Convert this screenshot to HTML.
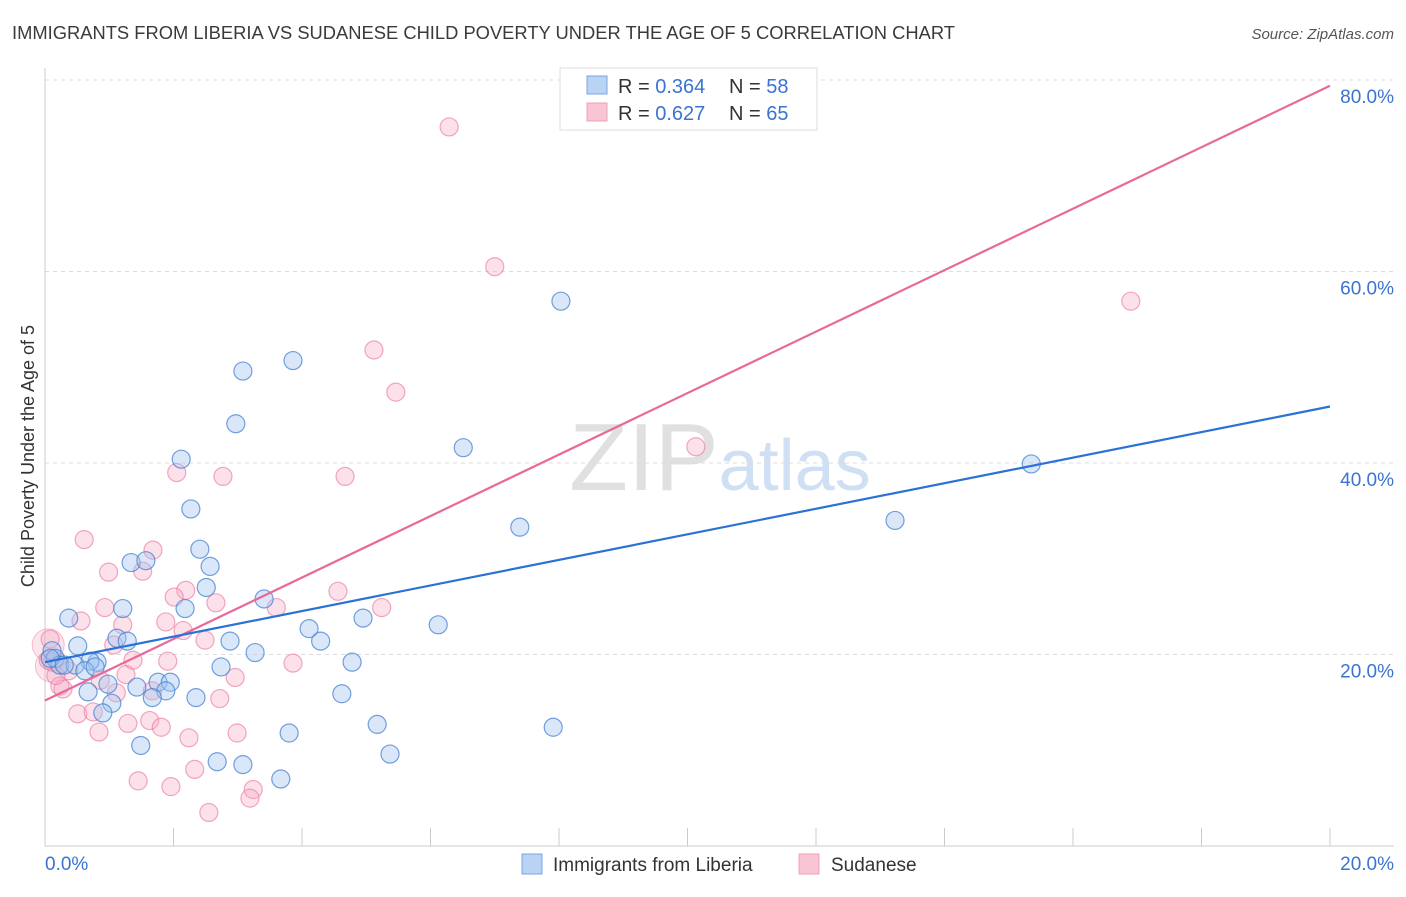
<!DOCTYPE html>
<html><head><meta charset="utf-8"><style>
body{margin:0;background:#fff;font-family:"Liberation Sans",sans-serif}
svg text{font-family:"Liberation Sans",sans-serif}
</style></head><body>
<svg id="chart" width="1406" height="892" xmlns="http://www.w3.org/2000/svg">
<text x="12" y="39" font-size="18" fill="#3a3a3a" textLength="943" lengthAdjust="spacingAndGlyphs">IMMIGRANTS FROM LIBERIA VS SUDANESE CHILD POVERTY UNDER THE AGE OF 5 CORRELATION CHART</text>
<text x="1394" y="39" font-size="15" fill="#555" font-style="italic" text-anchor="end">Source: ZipAtlas.com</text>
<text x="34" y="456" font-size="18" fill="#333" text-anchor="middle" transform="rotate(-90 34 456)">Child Poverty Under the Age of 5</text>
<text x="720" y="490" font-size="96" fill="#ddd" text-anchor="middle" font-family="Liberation Serif"><tspan fill="#e0e0e0">ZIP</tspan><tspan fill="#cfe0f5" font-family="Liberation Sans" font-size="72">atlas</tspan></text>
<g id="grid"></g><g id="axes"></g><g id="pts"></g><g id="lines"></g>
<g>
<rect x="560" y="68" width="257" height="62" fill="#fff" stroke="#ddd"/>
<rect x="587" y="76" width="20" height="18" fill="#b9d3f5" stroke="#7aa5e0"/>
<rect x="587" y="103" width="20" height="18" fill="#f9c5d5" stroke="#f0a0b8"/>
<text x="618" y="93" font-size="20" fill="#333">R = <tspan fill="#3a74d0">0.364</tspan></text>
<text x="729" y="93" font-size="20" fill="#333">N = <tspan fill="#3a74d0">58</tspan></text>
<text x="618" y="120" font-size="20" fill="#333">R = <tspan fill="#3a74d0">0.627</tspan></text>
<text x="729" y="120" font-size="20" fill="#333">N = <tspan fill="#3a74d0">65</tspan></text>
</g>
<g>
<rect x="522" y="854" width="20" height="20" fill="#b9d3f5" stroke="#7aa5e0"/>
<text x="553" y="871" font-size="19" fill="#333">Immigrants from Liberia</text>
<rect x="799" y="854" width="20" height="20" fill="#f9c5d5" stroke="#f0a0b8"/>
<text x="831" y="871" font-size="19" fill="#333">Sudanese</text>
</g>
</svg>
<script>
const xTicks=[0,20];
const yTicks=[20,40,60,80];
const blueX=[8.03,3.86,3.08,2.97,2.12,6.51,15.35,2.27,7.39,13.23,2.41,1.34,1.57,2.57,2.51,3.41,1.21,2.18,0.37,4.95,6.12,4.11,4.29,1.12,1.28,2.88,0.51,3.27,0.11,0.16,0.23,0.81,0.7,0.47,0.62,4.78,2.74,0.78,1.76,1.95,1.43,0.98,1.88,0.67,4.62,2.35,1.67,1.04,0.9,5.17,7.91,3.8,1.49,2.68,5.37,3.08,3.67,0.08,0.3];
const blueY=[56.9,50.7,49.6,44.1,40.4,41.6,39.9,35.2,33.3,34.0,31.0,29.6,29.8,29.2,27.0,25.8,24.8,24.8,23.8,23.8,23.1,22.7,21.4,21.7,21.4,21.4,20.9,20.2,20.4,19.6,18.9,19.2,19.3,18.9,18.3,19.2,18.7,18.7,17.1,17.1,16.6,16.9,16.2,16.1,15.9,15.5,15.5,14.9,13.9,12.7,12.4,11.8,10.5,8.8,9.6,8.5,7.0,19.6,18.9];
const pinkX=[6.29,7.0,16.9,5.12,5.46,10.13,2.05,2.77,4.67,0.61,1.68,1.52,0.99,2.19,2.01,4.56,2.66,0.93,3.6,5.24,0.56,1.88,1.21,2.15,2.49,1.07,0.08,0.11,1.37,1.91,3.86,2.96,0.37,1.26,0.86,0.23,1.11,1.67,2.72,0.51,0.28,0.75,1.63,1.29,1.81,0.84,2.99,2.24,2.33,1.45,1.96,3.24,3.19,2.55,0.05,0.17];
const pinkY=[75.1,60.5,56.9,51.8,47.4,41.7,39.0,38.6,38.6,32.0,30.9,28.7,28.6,26.7,26.0,26.6,25.4,24.9,24.9,24.9,23.5,23.4,23.1,22.5,21.5,21.0,21.6,19.2,19.4,19.3,19.1,17.6,18.3,17.9,17.3,16.7,16.0,16.2,15.4,13.8,16.4,14.0,13.1,12.8,12.4,11.9,11.8,11.3,8.0,6.8,6.2,5.9,5.0,3.5,19.4,17.8];
const bigPinkX=[0.05,0.1];
const bigPinkY=[21.0,18.8];
const trendBlue=[19.2,45.9];
const trendPink=[15.2,79.4];
const X=v=>45+v/20*1285, Y=v=>846-v/20*191.5;
const NS='http://www.w3.org/2000/svg';
function mk(tag,attrs,parent){const e=document.createElementNS(NS,tag);for(const k in attrs)e.setAttribute(k,attrs[k]);document.getElementById(parent).appendChild(e);return e;}
yTicks.forEach(t=>{
 const l=mk('line',{x1:45,x2:1394,y1:Y(t),y2:Y(t),stroke:'#ddd','stroke-dasharray':'4,4'},'grid');
 
 
 const tx=mk('text',{x:1394,y:Y(t)+23,'font-size':19,fill:'#3a74d0','text-anchor':'end'},'axes');
 tx.textContent=t.toFixed(1)+'%';
 
 
});
let a=mk('line',{x1:45,x2:45,y1:68,y2:846,stroke:'#ccc'},'axes');


a=mk('line',{x1:45,x2:1394,y1:846,y2:846,stroke:'#ccc'},'axes');


for(let i=1;i<=10;i++){const tk=mk('line',{x1:X(i*2),x2:X(i*2),y1:828,y2:846,stroke:'#ccc'},'axes');
 
 }
xTicks.forEach((t,i)=>{const tx=mk('text',{x:i?1394:45,y:870,'font-size':19,fill:'#3a74d0','text-anchor':i?'end':'start'},'axes');
 tx.textContent=t.toFixed(1)+'%';
 
 });
bigPinkX.forEach((v,i)=>{const c=mk('circle',{cx:X(v),cy:Y(bigPinkY[i]),r:16,fill:'rgba(247,170,195,0.3)',stroke:'rgba(236,130,165,0.5)','stroke-width':1},'pts');
 
 });
pinkX.forEach((v,i)=>{const c=mk('circle',{cx:X(v),cy:Y(pinkY[i]),r:9,fill:'rgba(247,170,195,0.35)',stroke:'rgba(236,130,165,0.7)','stroke-width':1.2},'pts');
 
 });
blueX.forEach((v,i)=>{const c=mk('circle',{cx:X(v),cy:Y(blueY[i]),r:9,fill:'rgba(160,195,240,0.4)',stroke:'rgba(70,130,210,0.75)','stroke-width':1.2},'pts');
 
 });
let tl=mk('line',{x1:X(0),y1:Y(trendPink[0]),x2:X(20),y2:Y(trendPink[1]),stroke:'#e8699a','stroke-width':2.2},'lines');


tl=mk('line',{x1:X(0),y1:Y(trendBlue[0]),x2:X(20),y2:Y(trendBlue[1]),stroke:'#2a72d4','stroke-width':2.2},'lines');


</script>
</body></html>
